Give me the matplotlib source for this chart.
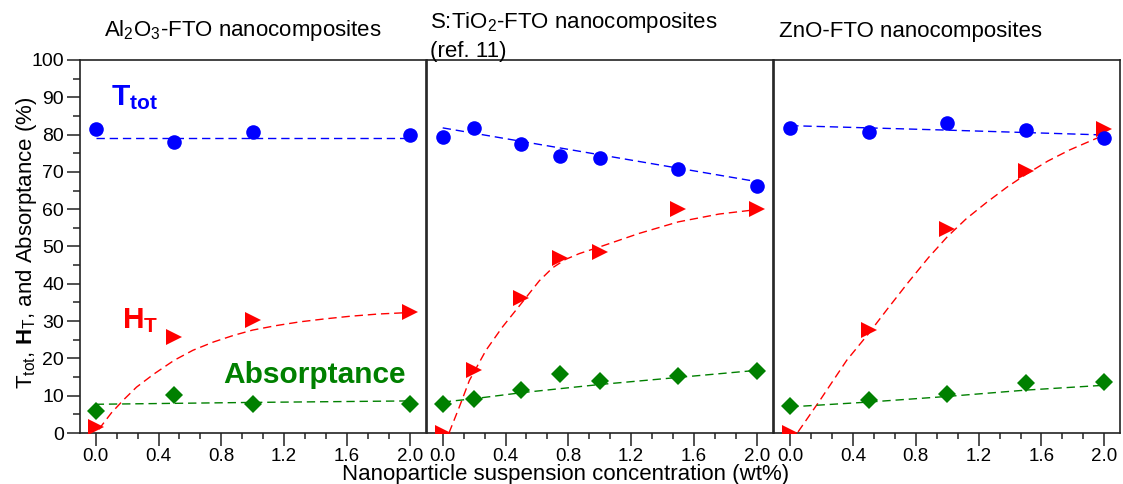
import matplotlib
matplotlib.use("Agg")
import matplotlib.pyplot as plt
from matplotlib.ticker import MultipleLocator, AutoMinorLocator, FormatStrFormatter

plt.rcParams['font.family'] = 'Liberation Sans'
plt.rcParams['mathtext.fontset'] = 'custom'
plt.rcParams['mathtext.rm'] = 'Liberation Sans'
plt.rcParams['mathtext.it'] = 'Liberation Sans:italic'
plt.rcParams['mathtext.bf'] = 'Liberation Sans:bold'
plt.rcParams['mathtext.default'] = 'regular'

# Al2O3-FTO nanocomposites
al_x = [0.0, 0.5, 1.0, 2.0]
al_ttot = [81.5, 78.1, 80.8, 80.0]
al_ht = [1.6, 25.8, 30.4, 32.5]
al_abs = [5.9, 10.3, 7.7, 7.9]
# fitted guide lines
al_ttot_fit_x = [0.0, 2.0]
al_ttot_fit = [79.0, 79.0]
al_ht_fit_x = [0.02, 0.1, 0.18, 0.26, 0.37, 0.5, 0.62, 0.75, 0.88, 1.0, 1.15, 1.3, 1.46, 1.62, 1.8, 2.0]
al_ht_fit = [1.0, 5.4, 9.0, 12.3, 15.8, 19.5, 22.2, 24.4, 26.2, 27.6, 28.8, 29.8, 30.6, 31.3, 31.9, 32.3]
al_abs_fit_x = [0.0, 1.0, 2.0]
al_abs_fit = [7.7, 8.2, 8.6]

# S:TiO2-FTO nanocomposites (ref. 11)
ti_x = [0.0, 0.2, 0.5, 0.75, 1.0, 1.5, 2.0]
ti_ttot = [79.4, 81.9, 77.5, 74.3, 73.8, 70.8, 66.1]
ti_ht = [0.0, 16.8, 36.1, 46.8, 48.4, 60.0, 60.0]
ti_abs = [7.9, 9.2, 11.5, 15.9, 13.9, 15.3, 16.6]
ti_ttot_fit_x = [0.0, 1.0, 2.0]
ti_ttot_fit = [81.8, 74.6, 67.4]
ti_ht_fit_x = [0.04, 0.106, 0.17, 0.276, 0.38, 0.5, 0.615, 0.7, 0.78, 0.87, 1.0, 1.25, 1.5, 1.76, 2.0]
ti_ht_fit = [0.0, 7.0, 14.1, 22.2, 28.4, 34.7, 40.8, 44.3, 46.5, 48.1, 49.9, 53.5, 56.6, 58.7, 59.9]
ti_abs_fit_x = [0.0, 0.2, 0.5, 1.0, 1.5, 2.0]
ti_abs_fit = [8.3, 9.2, 10.8, 13.0, 14.9, 16.8]

# ZnO-FTO nanocomposites
zn_x = [0.0, 0.5, 1.0, 1.5, 2.0]
zn_ttot = [81.9, 80.7, 83.0, 81.1, 79.2]
zn_ht = [0.0, 27.6, 54.8, 70.2, 81.4]
zn_abs = [7.3, 8.8, 10.4, 13.5, 13.7]
zn_ttot_fit_x = [0.0, 1.0, 2.0]
zn_ttot_fit = [82.4, 81.2, 79.9]
zn_ht_fit_x = [0.05, 0.19, 0.36, 0.5, 0.62, 0.75, 0.88, 1.0, 1.12, 1.25, 1.38, 1.5, 1.64, 1.78, 2.0]
zn_ht_fit = [0.3, 8.8, 19.5, 26.7, 33.3, 40.3, 47.0, 52.6, 57.4, 61.8, 65.9, 69.3, 72.9, 75.9, 79.9]
zn_abs_fit_x = [0.0, 0.5, 1.0, 1.5, 2.0]
zn_abs_fit = [7.0, 8.3, 9.8, 11.5, 12.8]

panels = [
    (al_x, al_ttot, al_ht, al_abs, al_ttot_fit_x, al_ttot_fit, al_ht_fit_x, al_ht_fit, al_abs_fit_x, al_abs_fit),
    (ti_x, ti_ttot, ti_ht, ti_abs, ti_ttot_fit_x, ti_ttot_fit, ti_ht_fit_x, ti_ht_fit, ti_abs_fit_x, ti_abs_fit),
    (zn_x, zn_ttot, zn_ht, zn_abs, zn_ttot_fit_x, zn_ttot_fit, zn_ht_fit_x, zn_ht_fit, zn_abs_fit_x, zn_abs_fit),
]

BLUE, RED, GREEN = '#0000ff', '#ff0000', '#008000'
SPINE = '#222222'
W, H = 1123, 484
fig = plt.figure(figsize=(W / 100, H / 100), dpi=100)

lefts = [80, 427, 774.5]
width = 345.5
bottom, top = 433, 60
dash = (0, (6, 3.5))

axes = []
for i, (x, tt, ht, ab, ttfx, ttf, htfx, htf, abfx, abf) in enumerate(panels):
    ax = fig.add_axes([lefts[i] / W, (H - bottom) / H, width / W, (bottom - top) / H])
    axes.append(ax)
    ax.plot(ttfx, ttf, color=BLUE, lw=1.0, ls=dash, zorder=2)
    ax.plot(htfx, htf, color=RED, lw=1.0, ls=dash, zorder=2)
    ax.plot(abfx, abf, color=GREEN, lw=1.0, ls=dash, zorder=2)
    ax.plot(x, ht, ls='none', marker='>', ms=12, color=RED, mew=0, zorder=3)
    ax.plot(x, ab, ls='none', marker='D', ms=9, color=GREEN, mew=0, zorder=3)
    ax.plot(x, tt, ls='none', marker='o', ms=10.5, color=BLUE, mew=0, zorder=4)

    ax.set_xlim(-0.1, 2.1)
    ax.set_ylim(0, 100)
    ax.xaxis.set_major_locator(MultipleLocator(0.4))
    ax.xaxis.set_minor_locator(AutoMinorLocator(3))
    ax.xaxis.set_major_formatter(FormatStrFormatter('%.1f'))
    ax.yaxis.set_major_locator(MultipleLocator(10))
    ax.yaxis.set_minor_locator(MultipleLocator(5))
    for s in ax.spines.values():
        s.set_color(SPINE)
        s.set_linewidth(1.2)
    ax.tick_params(axis='x', which='major', direction='out', length=9, width=1.1,
                   color=SPINE, labelsize=13.5, pad=1.5)
    ax.tick_params(axis='x', which='minor', direction='out', length=4.5, width=1.1, color=SPINE)
    if i == 0:
        ax.tick_params(axis='y', which='major', direction='out', length=9.5, width=1.1,
                       color=SPINE, labelsize=14, pad=2)
        ax.tick_params(axis='y', which='minor', direction='out', length=5, width=1.1, color=SPINE)
    else:
        ax.tick_params(axis='y', which='both', left=False, labelleft=False)

# series labels in the first panel
a0 = axes[0]
a0.text(0.1, 88, r'$\mathbf{T_{tot}}$', color=BLUE, fontsize=21.5, ha='left', va='baseline')
a0.text(0.165, 28, r'$\mathbf{H_{T}}$', color=RED, fontsize=21.5, ha='left', va='baseline')
a0.text(0.81, 13.3, 'Absorptance', color=GREEN, fontsize=21.5, fontweight='bold',
        ha='left', va='baseline')

# panel titles
fig.text(104 / W, (H - 36) / H, 'Al$_2$O$_3$-FTO nanocomposites', fontsize=16, ha='left', va='baseline')
fig.text(430 / W, (H - 28) / H, 'S:TiO$_2$-FTO nanocomposites', fontsize=16, ha='left', va='baseline')
fig.text(430 / W, (H - 57) / H, '(ref. 11)', fontsize=16, ha='left', va='baseline')
fig.text(779 / W, (H - 37) / H, 'ZnO-FTO nanocomposites', fontsize=16, ha='left', va='baseline')

# axis labels
fig.text(566 / W, 4 / H, 'Nanoparticle suspension concentration (wt%)', fontsize=16,
         ha='center', va='baseline')
fig.text(27 / W, (H - 243) / H, r'T$_{\mathrm{tot}}$, $\mathbf{H}_{\mathrm{T}}$, and Absorptance (%)',
         fontsize=16, rotation=90, ha='center', va='center')

fig.savefig('out.png', dpi=100)
